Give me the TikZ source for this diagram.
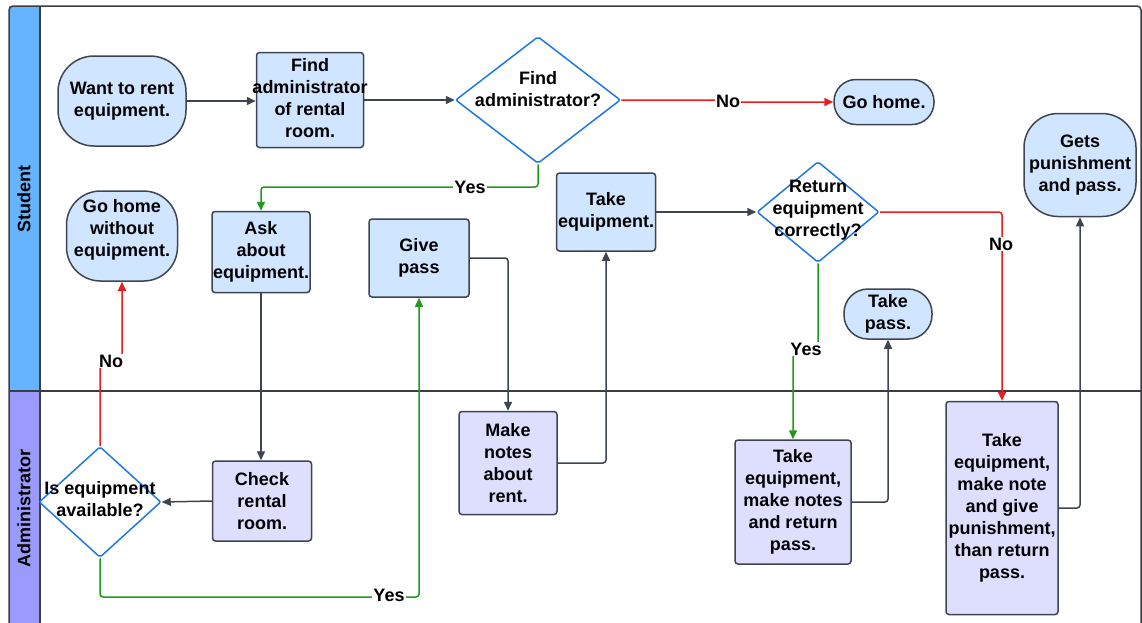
\documentclass[tikz,border=0pt]{standalone}
\usepackage{fontspec}
\setmainfont{Liberation Sans}
\usetikzlibrary{shapes.geometric,arrows.meta}
\definecolor{lineC}{HTML}{3E4550}
\definecolor{frameC}{HTML}{3A3D42}
\definecolor{stuF}{HTML}{D0E5FF}
\definecolor{admF}{HTML}{DEDFFF}
\definecolor{stuH}{HTML}{66B3FF}
\definecolor{admH}{HTML}{9B9BFF}
\definecolor{diaC}{HTML}{1E78E6}
\definecolor{noC}{HTML}{E81E1E}
\definecolor{yesC}{HTML}{1F9A1F}
\newcommand{\lblfont}{\bfseries\fontsize{18}{22}\selectfont}
\tikzset{
  base/.style={draw=lineC, line width=1.5pt, font=\lblfont, align=center, inner sep=1pt},
  stubox/.style={base, fill=stuF, rounded corners=3pt},
  admbox/.style={base, fill=admF, rounded corners=3pt},
  term/.style={base, fill=stuF},
  dia/.style={diamond, draw=diaC, fill=white, line width=1.5pt, inner sep=0pt, rounded corners=2pt},
  inlbl/.style={font=\lblfont, align=center, inner sep=0pt},
  conn/.style={draw=lineC, line width=1.5pt, rounded corners=3pt, -{Triangle[length=9pt,width=8pt]}},
  noconn/.style={conn, draw=noC, -{Triangle[length=9pt,width=8pt,fill=noC]}},
  yesconn/.style={conn, draw=yesC, -{Triangle[length=9pt,width=8pt,fill=yesC]}},
  edgelbl/.style={font=\lblfont, fill=white, inner sep=1pt},
}
\begin{document}
\begin{tikzpicture}[x=1pt,y=-1pt]
\useasboundingbox (0,0) rectangle (1142,622);
\clip (0,0) rectangle (1142,622);

% swimlanes
\fill[stuH] (9,6) rectangle (40,391);
\fill[admH] (9,391) rectangle (40,640);
\draw[frameC, line width=1.5pt, rounded corners=4pt] (9,640) -- (9,6) -- (1141,6) -- (1141,640);
\draw[frameC, line width=1.5pt] (40,6) -- (40,640);
\draw[frameC, line width=1.5pt] (9,391) -- (1141,391);
\node[rotate=90, font=\lblfont] (laneS) at (24,199) {Student};
\node[rotate=90, font=\lblfont] (laneA) at (24,508) {Administrator};

% student lane
\node[term, rounded corners=36pt, minimum width=128, minimum height=90] (want) at (122,101) {Want to rent\\equipment.};
\node[stubox, minimum width=107, minimum height=95] (find) at (310,100) {};
\node[inlbl] at (310,98) {Find\\administrator\\of rental\\room.};
\node[dia, minimum width=165, minimum height=127] (d1) at (538,100) {};
\node[inlbl] at (538,89) {Find\\administrator?};
\node[term, rounded corners=22pt, minimum width=100, minimum height=45] (home) at (884,102) {Go home.};
\node[term, rounded corners=34pt, minimum width=112, minimum height=103] (gets) at (1080,165) {Gets\\punishment\\and pass.};
\node[term, rounded corners=34pt, minimum width=111, minimum height=90] (homeno) at (122,236) {};
\node[inlbl] at (122,230) {Go home\\without\\equipment.};
\node[stubox, minimum width=98, minimum height=81] (ask) at (261,252) {Ask\\about\\equipment.};
\node[stubox, minimum width=100, minimum height=78] (give) at (419,258) {Give\\pass};
\node[stubox, minimum width=99, minimum height=78] (take) at (606,212) {Take\\equipment.};
\node[dia, minimum width=122, minimum height=101] (d3) at (818,212) {};
\node[inlbl] at (818,210) {Return\\equipment\\correctly?};
\node[term, rounded corners=24pt, minimum width=88, minimum height=50] (tpass) at (888,314) {Take\\pass.};

% administrator lane
\node[dia, minimum width=122, minimum height=111] (d2) at (100,502) {};
\node[inlbl] at (100,499.5) {Is equipment\\available?};
\node[admbox, minimum width=99, minimum height=80] (check) at (262,501) {Check\\rental\\room.};
\node[admbox, minimum width=98, minimum height=103] (notes) at (508,463) {Make\\notes\\about\\rent.};
\node[admbox, minimum width=116, minimum height=124] (tk2) at (793,502) {Take\\equipment,\\make notes\\and return\\pass.};
\node[admbox, minimum width=112, minimum height=213] (big) at (1002,508) {Take\\equipment,\\make note\\and give\\punishment,\\than return\\pass.};

% label anchors on the connectors
\coordinate (noB) at (728,101);
\coordinate (yA) at (470,187);
\coordinate (noA) at (111,361);
\coordinate (yB) at (419,597);
\coordinate (yC) at (806,349);

% connectors
\draw[conn] (want.east) -- (want.east -| find.west);
\draw[conn] (find.east) -- (d1.west);
\draw[noconn] (d1.east) -| (noB) |- (home.west);
\node[edgelbl] at (noB) {No};
\draw[yesconn] (d1.south) |- (yA) -| (ask.north);
\node[edgelbl] at (yA) {Yes};
\draw[conn] (ask.south) -- (ask.south |- check.north);
\draw[conn] (check.west) -- (d2.east);
\draw[noconn] (d2.north) |- (noA) -| (homeno.south);
\node[edgelbl] at (noA) {No};
\draw[yesconn] (d2.south) |- (yB) -- (give.south);
\node[edgelbl] at (389,595) {Yes};
\draw[conn] (give.east) -| (notes.north);
\draw[conn] (notes.east) -| (take.south);
\draw[conn] (take.east) -- (d3.west);
\draw[yesconn] (d3.south) |- (yC) -| (tk2.north);
\node[edgelbl] at (yC) {Yes};
\draw[noconn] (d3.east) -| (big.north);
\node[edgelbl] at (1001,244) {No};
\draw[conn] (tk2.east) -| (tpass.south);
\draw[conn] (big.east) -| (gets.south);
\end{tikzpicture}
\end{document}
